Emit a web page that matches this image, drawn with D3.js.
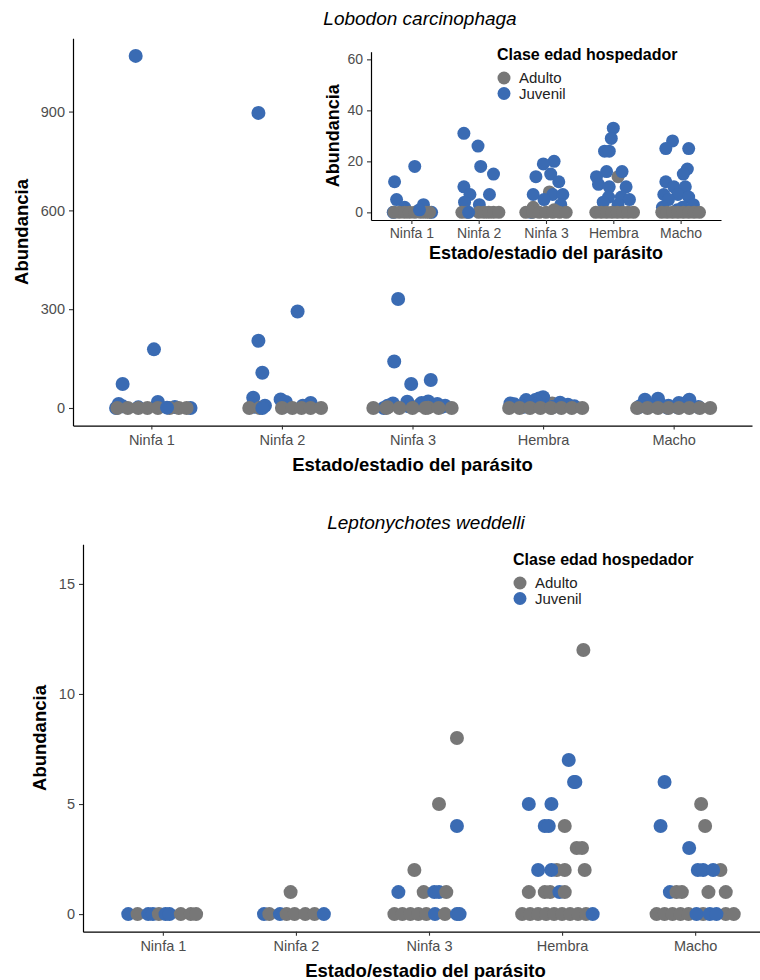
<!DOCTYPE html>
<html>
<head>
<meta charset="utf-8">
<script src="https://cdn.jsdelivr.net/npm/d3@7"></script>
<style>
  html, body { margin: 0; padding: 0; background: #fff; }
  svg { display: block; font-family: "Liberation Sans", Arial, sans-serif; }
</style>
</head>
<body>
<script>
// ---------------- DATA ----------------
const categories = ["Ninfa 1", "Ninfa 2", "Ninfa 3", "Hembra", "Macho"];
const hostClasses = ["Adulto", "Juvenil"];
const yTicksLobodon = [0, 300, 600, 900];
const yTicksInset = [0, 20, 40, 60];
const yTicksWeddell = [0, 5, 10, 15];

// [host class, abundance, jitter (fraction of category step)]
const lobodonNinfa1 = [
  ["Juvenil", 1069, -0.12], ["Juvenil", 178, 0.02], ["Juvenil", 73, -0.22],
  ["Juvenil", 18, 0.05], ["Juvenil", 12, -0.25], ["Juvenil", 5, -0.22],
  ["Juvenil", 3, 0.18], ["Juvenil", 2, -0.10], ["Juvenil", 0, -0.27], ["Juvenil", 0, 0.30],
  ["Adulto", 0, -0.26], ["Adulto", 0, -0.18], ["Adulto", 0, -0.10], ["Adulto", 0, -0.03],
  ["Adulto", 0, 0.05], ["Adulto", 0, 0.14], ["Adulto", 0, 0.21], ["Adulto", 0, 0.27],
  ["Juvenil", 1, 0.12]
];
const lobodonNinfa2 = [
  ["Juvenil", 896, -0.18], ["Juvenil", 293, 0.12], ["Juvenil", 204, -0.18], ["Juvenil", 107, -0.15],
  ["Juvenil", 31, -0.22], ["Juvenil", 26, -0.01], ["Juvenil", 18, 0.03], ["Juvenil", 15, 0.22],
  ["Juvenil", 10, -0.22], ["Juvenil", 7, -0.13], ["Juvenil", 7, 0.16], ["Juvenil", 4, -0.21],
  ["Juvenil", 3, 0.01],
  ["Adulto", 0, -0.25], ["Adulto", 0, -0.17], ["Adulto", 0, 0.00], ["Adulto", 0, 0.08],
  ["Adulto", 0, 0.15], ["Adulto", 0, 0.22], ["Adulto", 0, 0.30],
  ["Juvenil", 0, -0.15]
];
const lobodonNinfa3 = [
  ["Adulto", 8, 0.05],
  ["Juvenil", 331, -0.11], ["Juvenil", 141, -0.14], ["Juvenil", 85, 0.14], ["Juvenil", 73, -0.01],
  ["Juvenil", 20, 0.12], ["Juvenil", 19, -0.04], ["Juvenil", 15, 0.07], ["Juvenil", 14, -0.15],
  ["Juvenil", 12, 0.19], ["Juvenil", 7, -0.19], ["Juvenil", 7, 0.10], ["Juvenil", 7, 0.25],
  ["Juvenil", 5, -0.03], ["Juvenil", 3, 0.22], ["Juvenil", 0, -0.22],
  ["Adulto", 2, -0.19], ["Adulto", 1, 0.12],
  ["Adulto", 0, -0.30], ["Adulto", 0, -0.20], ["Adulto", 0, -0.10], ["Adulto", 0, 0.00],
  ["Adulto", 0, 0.10], ["Adulto", 0, 0.20], ["Adulto", 0, 0.30]
];
const lobodonHembra = [
  ["Adulto", 14, 0.07], ["Adulto", 1, 0.07],
  ["Juvenil", 33, 0.00], ["Juvenil", 29, -0.03], ["Juvenil", 24, -0.13], ["Juvenil", 24, -0.06],
  ["Juvenil", 16, 0.13], ["Juvenil", 16, -0.10], ["Juvenil", 14, -0.25], ["Juvenil", 11, -0.22],
  ["Juvenil", 10, -0.06], ["Juvenil", 10, 0.19], ["Juvenil", 6, -0.07], ["Juvenil", 6, 0.12],
  ["Juvenil", 5, 0.24], ["Juvenil", 4, -0.15], ["Juvenil", 3, 0.07],
  ["Adulto", 0, -0.26], ["Adulto", 0, -0.18], ["Adulto", 0, -0.10], ["Adulto", 0, -0.02],
  ["Adulto", 0, 0.06], ["Adulto", 0, 0.14], ["Adulto", 0, 0.22], ["Adulto", 0, 0.30]
];
const lobodonMacho = [
  ["Juvenil", 28, -0.12], ["Juvenil", 25, -0.22], ["Juvenil", 25, 0.12], ["Juvenil", 17, 0.10],
  ["Juvenil", 15, 0.04], ["Juvenil", 12, -0.22], ["Juvenil", 10, -0.10], ["Juvenil", 10, 0.07],
  ["Juvenil", 7, -0.25], ["Juvenil", 7, -0.04], ["Juvenil", 6, 0.12], ["Juvenil", 5, -0.18],
  ["Juvenil", 3, 0.19], ["Juvenil", 2, -0.27], ["Juvenil", 2, 0.03], ["Juvenil", 1, -0.05],
  ["Adulto", 0, -0.28], ["Adulto", 0, -0.20], ["Adulto", 0, -0.12], ["Adulto", 0, -0.04],
  ["Adulto", 0, 0.04], ["Adulto", 0, 0.12], ["Adulto", 0, 0.20], ["Adulto", 0, 0.28]
];

const weddellNinfa1 = [
  ["Juvenil", 0, -0.26], ["Adulto", 0, -0.19], ["Juvenil", 0, -0.11], ["Juvenil", 0, -0.075],
  ["Adulto", 0, -0.03], ["Juvenil", 0, 0.02], ["Juvenil", 0, 0.05], ["Adulto", 0, 0.135],
  ["Adulto", 0, 0.21], ["Adulto", 0, 0.25]
];
const weddellNinfa2 = [
  ["Juvenil", 0, -0.24], ["Adulto", 0, -0.20], ["Juvenil", 0, -0.12], ["Adulto", 0, -0.07],
  ["Adulto", 0, -0.01], ["Adulto", 0, 0.07], ["Adulto", 0, 0.14], ["Juvenil", 0, 0.21],
  ["Adulto", 1, -0.04]
];
const weddellNinfa3 = [
  ["Adulto", 8, 0.21], ["Adulto", 5, 0.075], ["Juvenil", 4, 0.21], ["Adulto", 2, -0.11],
  ["Juvenil", 1, -0.23], ["Adulto", 1, -0.04], ["Juvenil", 1, 0.04], ["Juvenil", 1, 0.075],
  ["Adulto", 1, 0.13],
  ["Adulto", 0, -0.26], ["Adulto", 0, -0.20], ["Adulto", 0, -0.14], ["Adulto", 0, -0.08],
  ["Adulto", 0, -0.02], ["Juvenil", 0, 0.045], ["Adulto", 0, 0.12], ["Juvenil", 0, 0.21],
  ["Juvenil", 0, 0.23]
];
const weddellHembra = [
  ["Adulto", 12, 0.16], ["Juvenil", 7, 0.05], ["Juvenil", 6, 0.09], ["Juvenil", 6, 0.10],
  ["Juvenil", 5, -0.25], ["Juvenil", 5, -0.08], ["Juvenil", 4, -0.13], ["Juvenil", 4, -0.10],
  ["Adulto", 4, 0.02], ["Adulto", 3, 0.11], ["Adulto", 3, 0.15],
  ["Juvenil", 2, -0.18], ["Adulto", 2, -0.04], ["Juvenil", 2, -0.08], ["Adulto", 2, 0.02],
  ["Adulto", 2, 0.17],
  ["Adulto", 1, -0.25], ["Adulto", 1, -0.13], ["Adulto", 1, -0.09], ["Juvenil", 1, -0.02],
  ["Adulto", 1, 0.02],
  ["Adulto", 0, -0.30], ["Adulto", 0, -0.24], ["Adulto", 0, -0.18], ["Adulto", 0, -0.12],
  ["Adulto", 0, -0.06], ["Adulto", 0, 0.00], ["Adulto", 0, 0.06], ["Adulto", 0, 0.12],
  ["Adulto", 0, 0.18], ["Juvenil", 0, 0.23]
];
const weddellMacho = [
  ["Juvenil", 6, -0.23], ["Juvenil", 4, -0.26], ["Adulto", 5, 0.045], ["Adulto", 4, 0.075],
  ["Juvenil", 3, -0.045], ["Adulto", 2, 0.19], ["Juvenil", 2, 0.02], ["Juvenil", 2, 0.06],
  ["Juvenil", 2, 0.135],
  ["Juvenil", 1, -0.19], ["Adulto", 1, -0.14], ["Adulto", 1, -0.10], ["Adulto", 1, 0.10],
  ["Adulto", 1, 0.23],
  ["Adulto", 0, -0.29], ["Adulto", 0, -0.23], ["Adulto", 0, -0.17], ["Adulto", 0, -0.11],
  ["Adulto", 0, -0.05], ["Adulto", 0, 0.06], ["Adulto", 0, 0.23], ["Adulto", 0, 0.29],
  ["Juvenil", 0, 0.01], ["Juvenil", 0, 0.11], ["Juvenil", 0, 0.16]
];

const lobodonData = [lobodonNinfa1, lobodonNinfa2, lobodonNinfa3, lobodonHembra, lobodonMacho];
const weddellData = [weddellNinfa1, weddellNinfa2, weddellNinfa3, weddellHembra, weddellMacho];

// ---------------- STYLE ----------------
const color = d3.scaleOrdinal().domain(hostClasses).range(["#777777", "#3a6bb3"]);

const svg = d3.select("body").append("svg").attr("width", 760).attr("height", 980);

function flatten(groups) {
  const out = [];
  groups.forEach((arr, i) => arr.forEach(d => out.push({ cat: categories[i], host: d[0], value: d[1], jitter: d[2] })));
  return out;
}

function drawPanel(cfg) {
  const x = d3.scalePoint().domain(categories).range(cfg.xRange).padding(0.6);
  const y = d3.scaleLinear().domain(cfg.yDomain).range(cfg.yRange);
  const g = svg.append("g");

  const pts = flatten(cfg.data).filter(d => d.value >= cfg.yDomain[0] && d.value <= cfg.yDomain[1]);
  g.append("g").selectAll("circle").data(pts).join("circle")
    .attr("cx", d => x(d.cat) + d.jitter * x.step())
    .attr("cy", d => y(d.value))
    .attr("r", cfg.r)
    .attr("fill", d => color(d.host));

  const ya = g.append("g").attr("transform", `translate(${cfg.xRange[0]},0)`)
    .call(d3.axisLeft(y).tickValues(cfg.yTicks).tickSize(4).tickSizeOuter(0).tickPadding(4));
  const xa = g.append("g").attr("transform", `translate(0,${cfg.yRange[0]})`)
    .call(d3.axisBottom(x).tickSize(4).tickSizeOuter(0).tickPadding(cfg.xPad || 4));
  [ya, xa].forEach(a => {
    a.select(".domain").attr("stroke", "#000").attr("stroke-width", 1.2);
    a.selectAll(".tick line").attr("stroke", "#333").attr("stroke-width", 1.1);
    a.selectAll(".tick text").attr("fill", "#4d4d4d").style("font-size", cfg.tickFont + "px")
      .style("font-family", "Liberation Sans, Arial, sans-serif");
  });
  xa.selectAll(".tick text").attr("dy", "0.76em");

  g.append("text")
    .attr("x", (cfg.xRange[0] + Math.min(cfg.xRange[1], 760)) / 2 + (cfg.xTitleShift || 0))
    .attr("y", cfg.xTitleY).attr("text-anchor", "middle")
    .style("font-weight", "bold").style("font-size", cfg.axisTitleFont + "px").text("Estado/estadio del parásito");
  g.append("text")
    .attr("transform", `translate(${cfg.yTitleX},${(cfg.yRange[0] + cfg.yRange[1]) / 2}) rotate(-90)`)
    .attr("text-anchor", "middle")
    .style("font-weight", "bold").style("font-size", cfg.axisTitleFont + "px").text("Abundancia");

  if (cfg.title) {
    g.append("text").attr("x", cfg.titleX).attr("y", cfg.titleY).attr("text-anchor", "middle")
      .style("font-style", "italic").style("font-size", "19px").text(cfg.title);
  }
  return g;
}

function drawLegend(x0, y0) {
  const g = svg.append("g").attr("transform", `translate(${x0},${y0})`);
  g.append("text").attr("x", 0).attr("y", 0).style("font-weight", "bold").style("font-size", "16px")
    .text("Clase edad hospedador");
  hostClasses.forEach((h, i) => {
    g.append("circle").attr("cx", 7).attr("cy", 18 + i * 15.5).attr("r", 6.5).attr("fill", color(h));
    g.append("text").attr("x", 22).attr("y", 18 + i * 15.5 + 5).style("font-size", "15px")
      .attr("fill", "#222").text(h);
  });
}

// Top panel: Lobodon carcinophaga
drawPanel({
  data: lobodonData, xRange: [73, 752], yDomain: [-53.45, 1122.45], yRange: [425.6, 38.3],
  yTicks: yTicksLobodon, r: 7, xTitleY: 471, yTitleX: 28, tickFont: 14.5, axisTitleFont: 18.5,
  title: "Lobodon carcinophaga", titleX: 420, titleY: 25
});

// Inset
drawPanel({
  data: lobodonData, xRange: [371, 721], yDomain: [-3, 63], yRange: [220, 51.7],
  yTicks: yTicksInset, r: 6.5, xTitleY: 259, yTitleX: 339, tickFont: 14, axisTitleFont: 18,
  xPad: 3
});
drawLegend(497, 60);

// Bottom panel: Leptonychotes weddelli
drawPanel({
  data: weddellData, xRange: [83, 775], yDomain: [-0.8, 16.8], yRange: [931.7, 544.3],
  yTicks: yTicksWeddell, r: 7, xTitleY: 977, yTitleX: 46, xTitleShift: 4, tickFont: 14.5, axisTitleFont: 18.5,
  title: "Leptonychotes weddelli", titleX: 426, titleY: 529
});
drawLegend(513, 565);
</script>
</body>
</html>
